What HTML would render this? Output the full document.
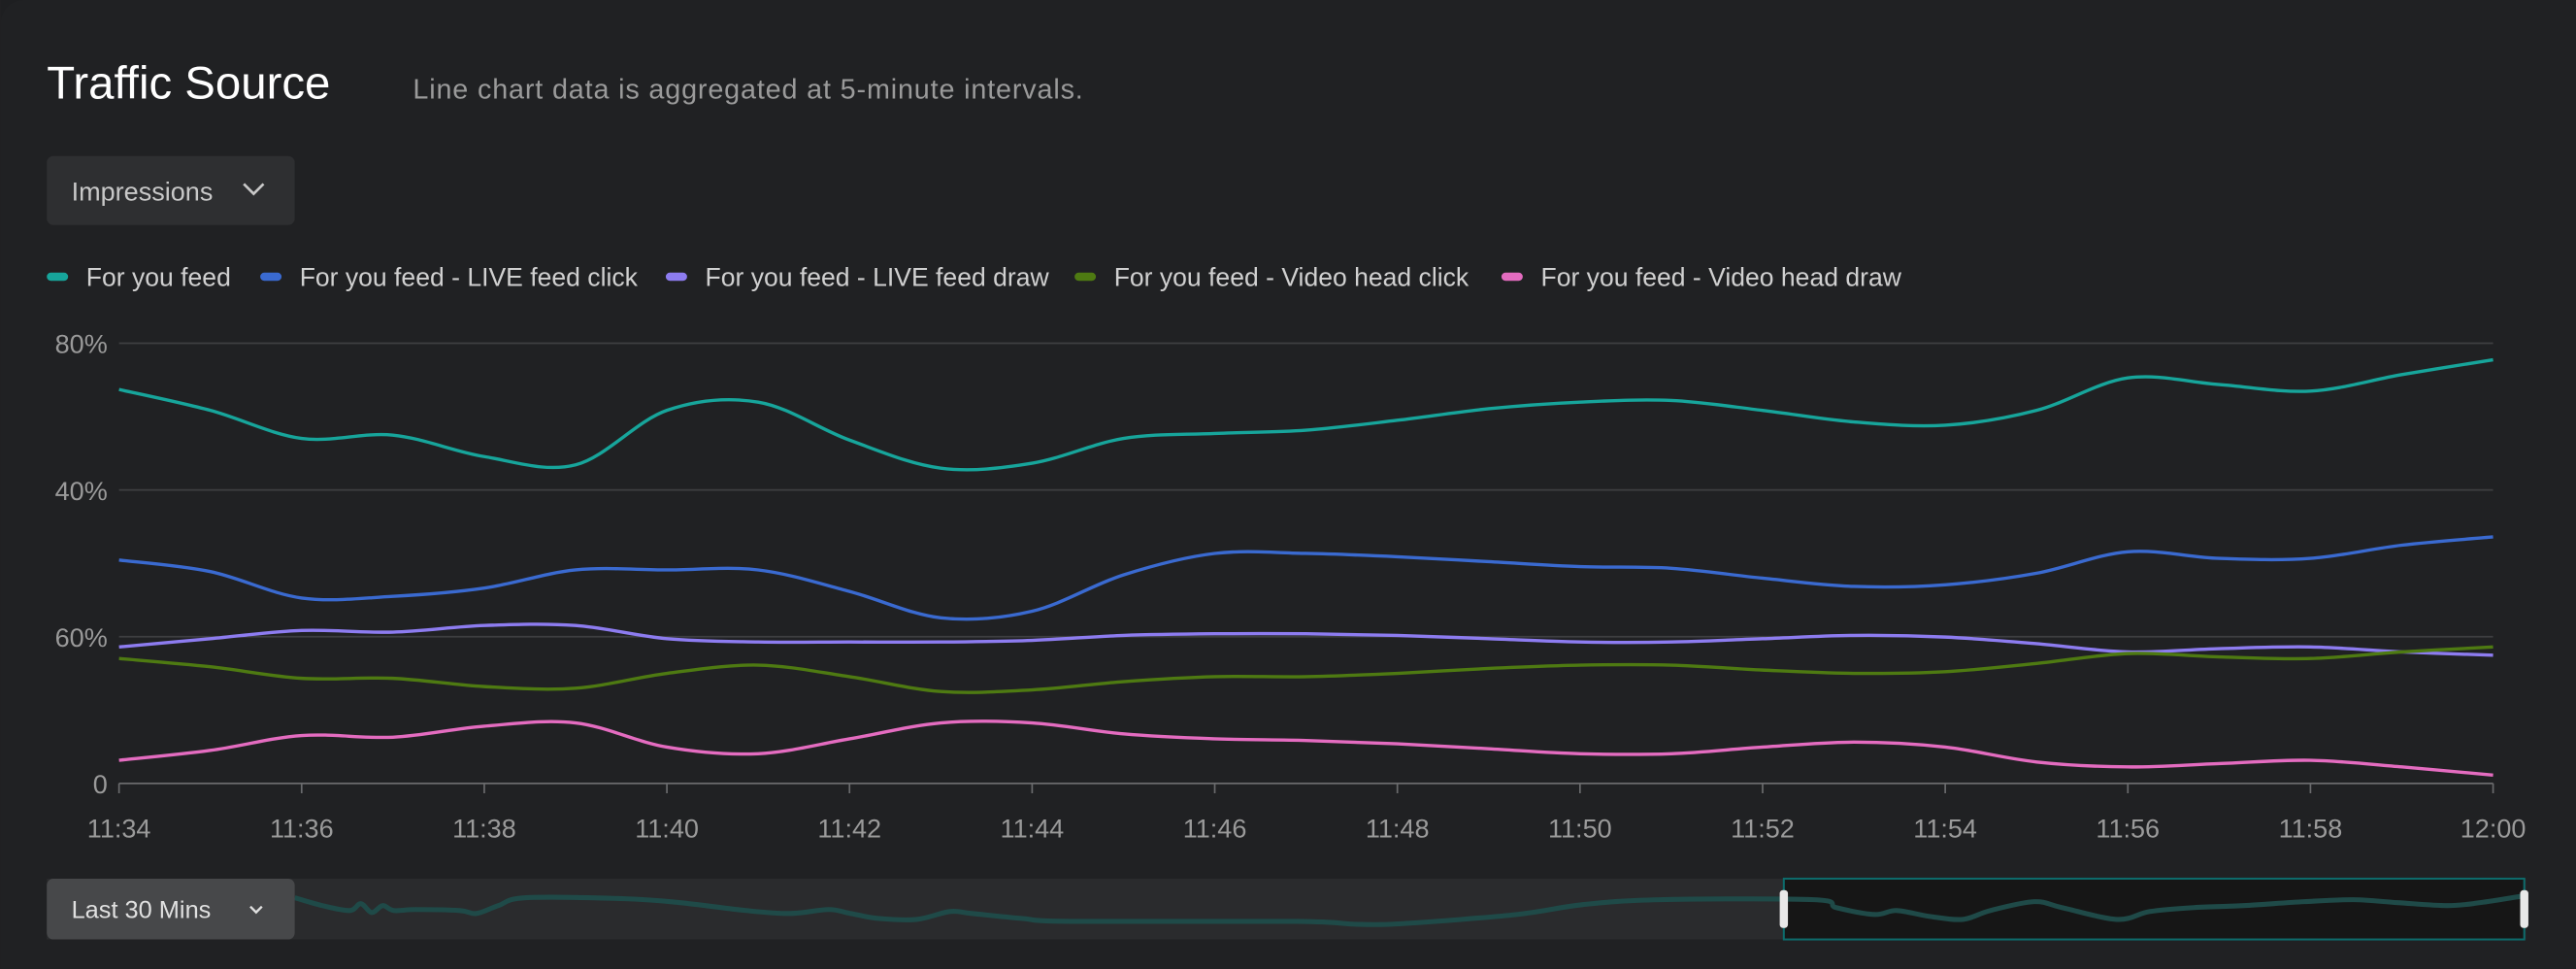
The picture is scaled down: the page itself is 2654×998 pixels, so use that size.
<!DOCTYPE html>
<html><head><meta charset="utf-8"><style>
html,body{margin:0;padding:0;background:#202123;overflow:hidden;width:2654px;height:998px;}
svg{display:block;font-family:"Liberation Sans",sans-serif;}
</style></head><body>
<svg id="chart" width="2654" height="998" viewBox="0 0 1568 590" xmlns="http://www.w3.org/2000/svg">
<rect x="0" y="0" width="1568" height="590" fill="#1e1f21"/>
<rect x="0" y="0" width="1600" height="620" rx="14" fill="#202123"/>
<text x="28" y="60" font-size="28" fill="#ffffff">Traffic Source</text>
<text x="251" y="60" font-size="17" letter-spacing="0.5" fill="#9a9a9a">Line chart data is aggregated at 5-minute intervals.</text>
<g>
<rect x="28" y="95" width="151" height="42" rx="4" fill="#2e2f31"/>
<text x="43" y="122" font-size="16" fill="#c8c8c8">Impressions</text>
<path d="M148 112 L154 118 L160 112" stroke="#c8c8c8" stroke-width="1.6" fill="none"/>
</g>
<g id="legend"></g>
<g id="grid"></g>
<g id="lines"></g>
<g id="nav">
<rect x="28" y="535" width="1510" height="37" fill="#2a2b2d"/>
<rect x="1086" y="535" width="451" height="37" fill="#161616" stroke="#0d6b6b" stroke-width="1.2"/>
<path id="navline" fill="none" stroke="#1f4a48" stroke-width="3" stroke-linejoin="round"/>
<rect x="28" y="535" width="151" height="37" rx="4" fill="#47484a"/>
<text x="43" y="559" font-size="15" fill="#e0e0e0">Last 30 Mins</text>
<path d="M152 552 L155.5 555.5 L159 552" stroke="#e0e0e0" stroke-width="1.4" fill="none"/>
<rect x="1083.5" y="542" width="5" height="23" rx="2" fill="#e8e8e8"/>
<rect x="1534.5" y="542" width="5" height="23" rx="2" fill="#e8e8e8"/>
</g>
</svg>
<script>
const categories=["11:34","11:35","11:36","11:37","11:38","11:39","11:40","11:41","11:42","11:43","11:44","11:45","11:46","11:47","11:48","11:49","11:50","11:51","11:52","11:53","11:54","11:55","11:56","11:57","11:58","11:59","12:00"];
const xTickLabels=["11:34","11:36","11:38","11:40","11:42","11:44","11:46","11:48","11:50","11:52","11:54","11:56","11:58","12:00"];
const yTickValues=[0,26.667,53.333,80];
const yTickLabels=["0","60%","40%","80%"];
const seriesNames=["For you feed","For you feed - LIVE feed click","For you feed - LIVE feed draw","For you feed - Video head click","For you feed - Video head draw"];
const seriesColors=["#17a59b","#3a6ad0","#8d7cf0","#4e7a12","#e46cc0"];
const forYouFeed=[71.6,67.8,62.7,63.3,59.4,57.9,67.8,69.3,62.4,57.3,58.2,62.7,63.6,64.2,66.0,68.1,69.3,69.6,67.8,65.7,65.1,67.8,73.7,72.5,71.3,74.3,77.0];
const liveFeedClick=[40.6,38.5,33.7,34.0,35.5,38.8,38.8,38.8,34.9,30.1,31.3,37.9,41.8,41.8,41.2,40.3,39.4,39.1,37.3,35.8,36.1,38.2,42.1,40.9,40.9,43.3,44.8];
const liveFeedDraw=[24.8,26.3,27.8,27.5,28.7,28.7,26.3,25.7,25.7,25.7,26.0,26.9,27.2,27.2,26.9,26.3,25.7,25.7,26.3,26.9,26.6,25.4,23.9,24.5,24.8,23.9,23.3];
const videoHeadClick=[22.7,21.2,19.1,19.1,17.6,17.3,20.0,21.5,19.4,16.7,17.0,18.5,19.4,19.4,20.0,20.9,21.5,21.5,20.6,20.0,20.3,21.8,23.6,23.0,22.7,23.9,24.8];
const videoHeadDraw=[4.2,6.0,8.7,8.4,10.4,11.0,6.6,5.4,8.1,11.0,11.0,9.0,8.1,7.8,7.2,6.3,5.4,5.4,6.6,7.5,6.6,3.9,3.0,3.6,4.2,3.0,1.5];
const navMinutes=[-26,-25.5,-25,-24.8,-24.6,-24.4,-24.2,-23.8,-23,-22.7,-22.3,-21.8,-20,-19,-17.8,-17,-16.3,-15.9,-15.4,-14.7,-14.1,-13.7,-12.8,-11.9,-7.8,-6.7,-5.8,-3.8,-2.6,-1.2,1.6,2,2.7,3.1,3.7,4.3,4.8,5.6,6.1,7.1,7.7,8.5,9.4,10.5,11.4,12.2,13.1,13.7,14.5];
const navValues=[78,62,52,66,48,62,52,54,52,46,62,78,76,68,52,46,54,46,36,34,50,46,36,30,30,24,26,44,64,74,74,58,44,52,40,34,52,70,58,34,50,58,62,70,74,68,62,68,82];

const NS="http://www.w3.org/2000/svg";
const X0=72,X1=1518,Y0=477,Y1=209;
const xScale=i=>X0+(X1-X0)*i/(categories.length-1);
const yScale=v=>Y0-(Y0-Y1)*v/80;
function mk(t,a,p){const e=document.createElementNS(NS,t);for(const k in a)e.setAttribute(k,a[k]);p.appendChild(e);return e;}
function smooth(pts){let d="M"+pts[0][0]+" "+pts[0][1];for(let i=0;i<pts.length-1;i++){const p0=pts[i-1]||pts[i],p1=pts[i],p2=pts[i+1],p3=pts[i+2]||p2;const c1x=p1[0]+(p2[0]-p0[0])/6,c1y=p1[1]+(p2[1]-p0[1])/6,c2x=p2[0]-(p3[0]-p1[0])/6,c2y=p2[1]-(p3[1]-p1[1])/6;d+=` C${c1x} ${c1y} ${c2x} ${c2y} ${p2[0]} ${p2[1]}`;}return d;}

const grid=document.getElementById('grid');
yTickValues.forEach((v,i)=>{
  const l=mk('line',{x1:X0,x2:X1,y1:yScale(v),y2:yScale(v),stroke:v===0?'#6a6b6d':'#3e3f41','stroke-width':1},grid);
  
  
  const t=mk('text',{x:65,y:yScale(v)+6,'text-anchor':'end','font-size':16,fill:'#9a9a9a'},grid);
  t.textContent=yTickLabels[i];
  
  
});
xTickLabels.forEach(lab=>{
  const i=categories.indexOf(lab),x=xScale(i);
  const tk=mk('line',{x1:x,x2:x,y1:Y0,y2:Y0+6,stroke:'#6a6b6d'},grid);
  
  
  const t=mk('text',{x:x,y:510,'text-anchor':'middle','font-size':16,fill:'#9a9a9a'},grid);
  t.textContent=lab;
  
  
});
const series=[forYouFeed,liveFeedClick,liveFeedDraw,videoHeadClick,videoHeadDraw];
const lines=document.getElementById('lines');
series.forEach((s,k)=>{
  const p=mk('path',{d:smooth(s.map((v,i)=>[xScale(i),yScale(v)])),fill:'none',stroke:seriesColors[k],'stroke-width':2},lines);
  
  
});
const legend=document.getElementById('legend');
const legX=[28,158,405,654,914];
seriesNames.forEach((n,k)=>{
  const g=mk('g',{},legend);
  
  
  mk('rect',{x:legX[k],y:166,width:13,height:5,rx:2.5,fill:seriesColors[k]},g);
  const t=mk('text',{x:legX[k]+24,y:174,'font-size':15.7,fill:'#d0d0d0'},g);
  t.textContent=n;
});
const NX0=179,NX1=1537,NM0=-26,NM1=14.5;
const nx=m=>NX0+(NX1-NX0)*(m-NM0)/(NM1-NM0);
const ny=v=>570-30*v/100;
document.getElementById('navline').setAttribute('d',smooth(navMinutes.map((m,i)=>[nx(m),ny(navValues[i])])));
</script>
</body></html>
